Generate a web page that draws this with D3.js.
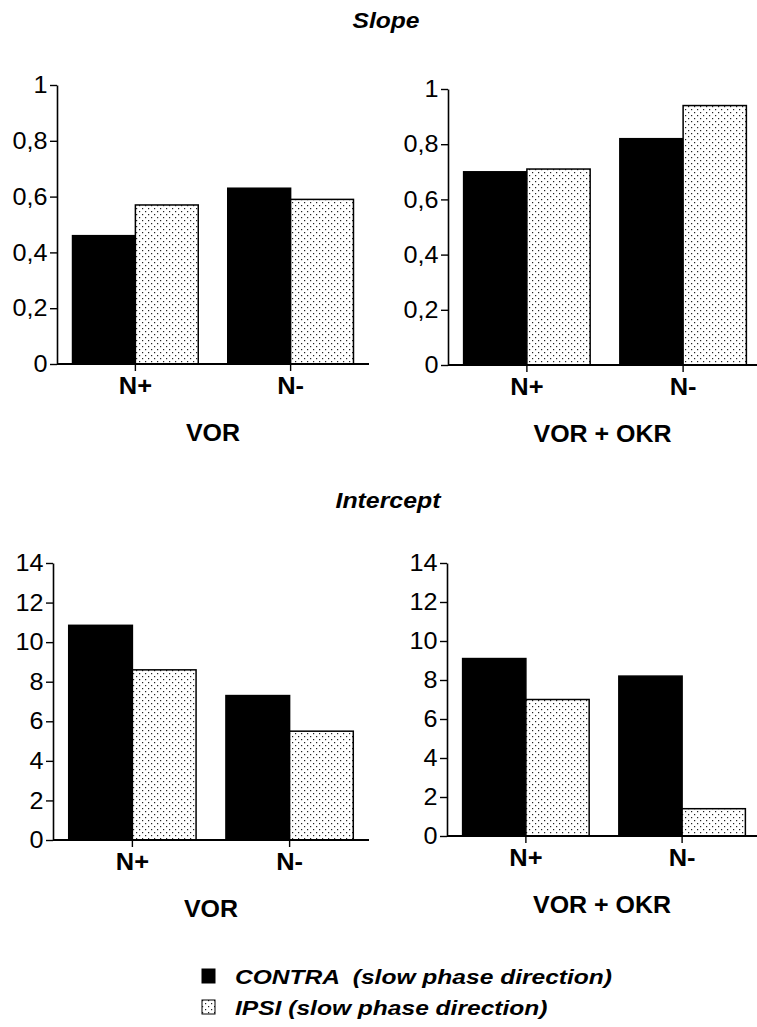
<!DOCTYPE html>
<html>
<head>
<meta charset="utf-8">
<script src="https://cdn.jsdelivr.net/npm/d3@7"></script>
<style>
  body { margin: 0; background: #fff; }
  svg { display: block; font-family: "Liberation Sans", Arial, Helvetica, sans-serif; }
</style>
</head>
<body>
<div id="chart"></div>
<script>
// data
const groups = ["N+", "N-"];
const series = ["CONTRA", "IPSI"];
const legendLabels = ["CONTRA  (slow phase direction)", "IPSI (slow phase direction)"];

const slopeVOR     = [[0.46, 0.57], [0.63, 0.59]];
const slopeVOROKR  = [[0.70, 0.71], [0.82, 0.94]];
const interVOR     = [[10.85, 8.6], [7.3, 5.5]];
const interVOROKR  = [[9.1, 7.0], [8.2, 1.4]];

const slopeTicks = [0, 0.2, 0.4, 0.6, 0.8, 1];
const interTicks = [0, 2, 4, 6, 8, 10, 12, 14];

const W = 757, H = 1027;

let svg = d3.select("#chart")
    .append("svg")
    .attr("width", W)
    .attr("height", H);

// dotted fill for the IPSI bars
let defs = svg.append("defs");
let pat = defs.append("pattern")
    .attr("id", "dots")
    .attr("patternUnits", "userSpaceOnUse")
    .attr("width", 6)
    .attr("height", 6);
pat.append("rect").attr("width", 6).attr("height", 6).attr("fill", "#fff");
pat.append("rect").attr("x", 1).attr("y", 1).attr("width", 1.2).attr("height", 1.2).attr("fill", "#222");
pat.append("rect").attr("x", 4).attr("y", 4).attr("width", 1.2).attr("height", 1.2).attr("fill", "#222");

const fills = ["#000", "url(#dots)"];
const commaFmt = d => String(d).replace(".", ",");

// the original lettering is a bit wider than Liberation Sans
function wideText(parent, x, y, k, txt) {
    return parent.append("text")
        .attr("transform", `translate(${x},${y}) scale(${k},1)`)
        .text(txt);
}

// panel placement
const panels = [
    {data: slopeVOR,    ticks: slopeTicks, max: 1,  x0: 57,  x1: 369, yTop: 85,  y0: 364, name: "VOR"},
    {data: slopeVOROKR, ticks: slopeTicks, max: 1,  x0: 448, x1: 762, yTop: 89,  y0: 365, name: "VOR + OKR"},
    {data: interVOR,    ticks: interTicks, max: 14, x0: 53,  x1: 369, yTop: 563, y0: 840, name: "VOR"},
    {data: interVOROKR, ticks: interTicks, max: 14, x0: 447, x1: 761, yTop: 563, y0: 836, name: "VOR + OKR"}
];

panels.forEach(function(p) {
    let g = svg.append("g");

    let x = d3.scaleBand()
        .domain(groups)
        .range([p.x0, p.x1])
        .paddingInner(0.19)
        .paddingOuter(0.1);

    let xs = d3.scaleBand()
        .domain(series)
        .range([0, x.bandwidth()]);

    let y = d3.scaleLinear()
        .domain([0, p.max])
        .range([p.y0, p.yTop]);

    // bars
    groups.forEach(function(grp, i) {
        g.selectAll(null)
            .data(p.data[i])
            .enter()
            .append("rect")
            .attr("x", (d, j) => x(grp) + xs(series[j]))
            .attr("y", d => y(d))
            .attr("width", xs.bandwidth())
            .attr("height", d => y(0) - y(d))
            .attr("fill", (d, j) => fills[j])
            .attr("stroke", "#000")
            .attr("stroke-width", 1.5);
    });

    // y axis
    let ya = g.append("g")
        .attr("transform", `translate(${p.x0},0)`)
        .call(d3.axisLeft(y).tickValues(p.ticks).tickFormat(commaFmt).tickSize(7).tickSizeOuter(0).tickPadding(2));
    ya.select(".domain").attr("stroke-width", 1.6);
    ya.selectAll(".tick line").attr("stroke-width", 1.4);
    ya.selectAll(".tick text")
        .attr("font-size", 24)
        .attr("fill", "#000")
        .attr("transform", "scale(1.05,1)");

    // x axis
    let xa = g.append("g")
        .attr("transform", `translate(0,${p.y0})`)
        .call(d3.axisBottom(x).tickSize(7).tickSizeOuter(0));
    xa.select(".domain").attr("d", `M${p.x0},0H${Math.min(p.x1, W)}`).attr("stroke-width", 1.8);
    xa.selectAll(".tick line").attr("stroke-width", 1.4);
    xa.selectAll(".tick text")
        .attr("y", 0)
        .attr("dy", 0)
        .attr("transform", "translate(0,30) scale(1.06,1)")
        .attr("font-size", 24)
        .attr("font-weight", "bold")
        .attr("fill", "#000");

    // condition label
    wideText(g, (p.x0 + Math.min(p.x1, W)) / 2, p.y0 + 77, 1.04, p.name)
        .attr("text-anchor", "middle")
        .attr("font-size", 24)
        .attr("font-weight", "bold");
});

// section titles
wideText(svg, 386, 28, 1.12, "Slope")
    .attr("text-anchor", "middle")
    .attr("font-size", 22)
    .attr("font-weight", "bold")
    .attr("font-style", "italic");

wideText(svg, 388, 508, 1.13, "Intercept")
    .attr("text-anchor", "middle")
    .attr("font-size", 22)
    .attr("font-weight", "bold")
    .attr("font-style", "italic");

// legend
let legend = svg.append("g");
legendLabels.forEach(function(lbl, i) {
    legend.append("rect")
        .attr("x", 202)
        .attr("y", 969 + i * 31)
        .attr("width", 13)
        .attr("height", 14)
        .attr("fill", fills[i])
        .attr("stroke", "#000")
        .attr("stroke-width", 1);
    wideText(legend, 235, 984 + i * 31, 1.17, lbl)
        .attr("font-size", 21)
        .attr("font-weight", "bold")
        .attr("font-style", "italic")
        .style("white-space", "pre");
});
</script>
</body>
</html>
